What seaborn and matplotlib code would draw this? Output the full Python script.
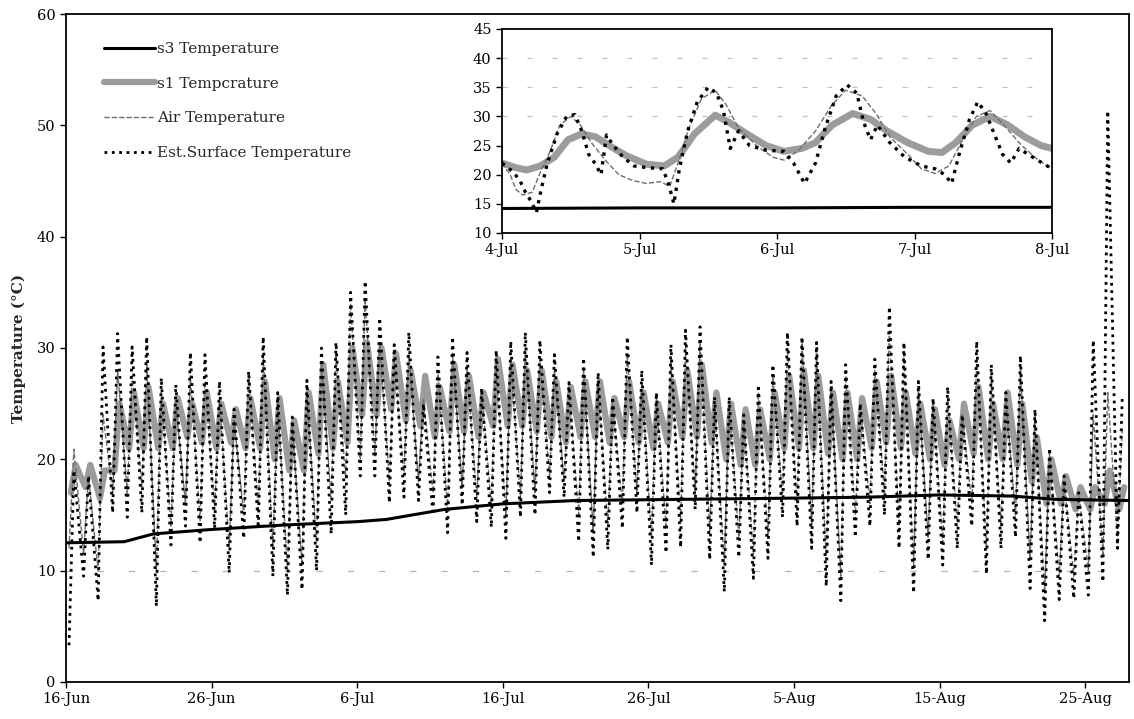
import numpy as np
import pandas as pd
import matplotlib
matplotlib.use("Agg")
import matplotlib.pyplot as plt
import matplotlib.dates as mdates
import seaborn as sns

# ---------------- data ----------------
start_date = "2013-06-16"
main_ticks = ["2013-06-16", "2013-06-26", "2013-07-06", "2013-07-16",
              "2013-07-26", "2013-08-05", "2013-08-15", "2013-08-25"]

# daily maximum / minimum of each series, 16-Jun ... 27-Aug
surf_max = [19.0, 18.5, 30.1, 31.3, 30.1, 31.0, 27.3, 26.7, 29.6, 29.4,
            27.0, 24.5, 27.9, 31.0, 26.0, 23.8, 27.1, 30.0, 30.5, 35.0,
            36.0, 32.7, 30.3, 31.4, 25.0, 29.2, 31.0, 29.6, 26.4, 29.8,
            30.6, 31.4, 30.7, 29.4, 26.9, 29.1, 27.8, 25.6, 31.0, 28.0,
            26.0, 30.3, 31.6, 31.9, 25.6, 25.6, 24.0, 26.7, 28.5, 31.4,
            31.0, 30.5, 27.0, 28.5, 25.0, 29.0, 33.7, 30.5, 27.0, 25.5,
            26.5, 24.0, 30.6, 28.5, 26.0, 29.3, 24.5, 21.0, 18.5, 17.0,
            30.7, 51.3, 25.8]
surf_min = [3.3, 9.5, 7.3, 15.2, 14.8, 15.2, 6.8, 12.3, 14.0, 12.5,
            13.8, 9.8, 12.9, 13.8, 9.5, 7.8, 8.3, 10.0, 13.3, 15.0,
            18.5, 18.5, 16.1, 16.6, 16.3, 15.0, 13.4, 15.9, 14.4, 13.9,
            12.9, 14.8, 15.0, 17.0, 16.6, 12.6, 11.2, 11.9, 13.8, 15.2,
            10.5, 11.6, 12.1, 15.5, 11.0, 8.1, 11.2, 9.3, 11.1, 14.8,
            14.0, 12.0, 8.6, 7.3, 13.0, 14.0, 15.0, 12.0, 8.0, 11.0,
            10.5, 12.0, 14.0, 9.7, 12.0, 13.0, 8.4, 5.5, 7.4, 7.5,
            7.8, 9.0, 12.0]
air_max = [20.9, 18.5, 24.0, 28.0, 27.5, 28.5, 26.0, 25.0, 27.5, 27.0,
           25.5, 23.5, 27.8, 29.5, 25.0, 23.0, 26.0, 28.5, 29.5, 34.0,
           34.5, 30.5, 29.0, 29.5, 25.5, 28.0, 29.5, 28.0, 26.0, 28.5,
           29.0, 30.0, 29.0, 28.0, 26.5, 28.0, 27.0, 25.0, 29.5, 27.0,
           25.5, 29.0, 30.0, 30.5, 25.0, 25.0, 23.5, 26.0, 27.5, 30.0,
           30.5, 29.5, 26.5, 27.5, 25.0, 28.0, 31.5, 29.5, 26.0, 25.0,
           25.5, 24.0, 29.0, 27.5, 25.5, 28.0, 24.0, 20.5, 18.0, 17.0,
           24.0, 26.0, 23.0]
air_min = [12.0, 11.5, 10.0, 17.0, 17.0, 17.5, 10.0, 14.0, 16.0, 14.5,
           15.5, 12.0, 15.0, 15.5, 12.0, 10.0, 10.5, 12.5, 16.5, 18.3,
           20.0, 20.3, 18.0, 18.5, 18.0, 17.0, 15.5, 17.5, 16.5, 16.0,
           15.0, 16.5, 17.0, 18.5, 18.0, 15.0, 13.5, 14.0, 16.0, 17.0,
           13.0, 14.0, 14.5, 17.0, 13.5, 10.5, 13.0, 11.5, 13.0, 16.5,
           16.0, 14.0, 11.0, 9.5, 15.0, 16.0, 17.0, 14.0, 10.5, 13.0,
           12.5, 14.0, 16.0, 12.0, 14.0, 15.0, 11.0, 8.0, 9.5, 9.5,
           10.0, 11.5, 13.0]
s1_max = [19.5, 19.5, 19.0, 25.0, 26.0, 26.5, 25.0, 25.5, 25.0, 26.0,
          25.0, 24.5, 25.5, 27.0, 25.5, 23.5, 26.0, 28.5, 27.0, 30.0,
          30.5, 30.0, 29.5, 28.0, 27.5, 26.5, 28.5, 27.5, 26.0, 29.0,
          28.5, 28.0, 28.0, 27.0, 26.5, 27.0, 27.0, 25.5, 27.0, 26.0,
          25.0, 27.0, 28.0, 28.5, 26.0, 25.0, 24.5, 24.5, 26.0, 27.5,
          28.0, 27.5, 26.0, 26.0, 25.5, 27.0, 27.5, 26.0, 25.0, 24.5,
          23.5, 25.0, 26.5, 25.0, 26.0, 25.0, 22.0, 20.0, 18.5, 17.5,
          17.5, 19.0, 17.5]
s1_min = [17.0, 17.5, 16.5, 19.0, 21.0, 21.0, 21.0, 21.0, 22.0, 21.5,
          21.0, 21.5, 21.0, 21.0, 20.0, 19.0, 19.0, 20.5, 21.0, 21.5,
          24.0, 24.0, 24.5, 23.5, 23.0, 22.0, 22.5, 22.5, 22.0, 23.0,
          23.0, 23.0, 22.5, 22.0, 21.5, 22.0, 22.0, 21.5, 22.0, 21.5,
          21.0, 21.5, 22.0, 22.0, 21.5, 20.0, 19.5, 19.5, 20.0, 21.0,
          21.0, 21.0, 20.5, 20.0, 20.0, 21.0, 21.5, 21.0, 20.5, 20.0,
          19.5, 20.0, 20.5, 20.0, 20.0, 19.5, 18.0, 16.0, 16.0, 15.5,
          15.5, 16.0, 15.5]
s3_dates = ["2013-06-16", "2013-06-20", "2013-06-22", "2013-06-26", "2013-07-01",
            "2013-07-06", "2013-07-08", "2013-07-12", "2013-07-16", "2013-07-21",
            "2013-07-28", "2013-08-04", "2013-08-10", "2013-08-15", "2013-08-20",
            "2013-08-23", "2013-08-28"]
s3_vals = [12.5, 12.6, 13.3, 13.7, 14.1, 14.4, 14.6, 15.5, 16.0, 16.3,
           16.4, 16.5, 16.6, 16.8, 16.7, 16.4, 16.3]

# inset: 4-Jul ... 8-Jul (time in days after 4-Jul 00:00)
inset_start = "2013-07-04"
inset_ticks = ["2013-07-04", "2013-07-05", "2013-07-06", "2013-07-07", "2013-07-08"]
in_surf_t = [0.00, 0.08, 0.13, 0.17, 0.21, 0.25, 0.29, 0.33, 0.40, 0.47, 0.53, 0.58,
             0.63, 0.68, 0.72, 0.76, 0.81, 0.88, 0.96, 1.06, 1.17, 1.21, 1.25, 1.29,
             1.35, 1.42, 1.50, 1.56, 1.61, 1.66, 1.72, 1.80, 1.92, 2.05, 2.12, 2.20,
             2.28, 2.35, 2.43, 2.51, 2.58, 2.63, 2.68, 2.73, 2.82, 2.93, 3.05, 3.15,
             3.22, 3.27, 3.33, 3.40, 3.46, 3.52, 3.58, 3.64, 3.70, 3.76, 3.86, 4.00]
in_surf_v = [22.0, 20.5, 19.0, 17.0, 15.5, 13.5, 18.0, 22.0, 27.0, 30.0, 30.3, 27.5,
             23.5, 21.8, 20.0, 26.8, 25.0, 23.0, 21.5, 21.2, 21.0, 18.5, 15.0, 21.0,
             27.5, 32.5, 35.0, 34.0, 31.0, 24.5, 27.5, 25.0, 24.2, 24.0, 22.0, 18.5,
             22.0, 28.0, 33.5, 35.4, 34.0, 29.0, 26.0, 28.5, 25.5, 23.0, 21.5, 21.0,
             20.0, 18.5, 24.0, 29.5, 32.5, 30.5, 27.0, 23.5, 22.0, 24.5, 23.0, 21.0]
in_air_t = [0.00, 0.06, 0.10, 0.15, 0.22, 0.28, 0.35, 0.42, 0.50, 0.57, 0.65, 0.75,
            0.85, 0.95, 1.05, 1.15, 1.22, 1.28, 1.36, 1.45, 1.55, 1.63, 1.72, 1.85,
            1.97, 2.05, 2.15, 2.28, 2.40, 2.50, 2.62, 2.72, 2.82, 2.95, 3.05, 3.15,
            3.25, 3.35, 3.45, 3.55, 3.65, 3.78, 3.90, 4.00]
in_air_v = [22.0, 20.0, 17.5, 16.5, 17.0, 20.5, 24.0, 28.5, 30.0, 28.5, 25.5, 22.5,
            20.0, 19.0, 18.5, 18.8, 18.0, 22.0, 28.0, 33.0, 34.5, 32.0, 28.0, 25.0,
            23.0, 22.5, 24.0, 27.5, 32.0, 34.5, 33.5, 30.5, 26.5, 23.5, 21.0, 20.2,
            21.5, 26.0, 30.0, 31.0, 28.5, 25.0, 22.5, 21.0]
in_s1_t = [0.00, 0.10, 0.18, 0.28, 0.38, 0.48, 0.58, 0.68, 0.78, 0.90, 1.05, 1.18,
           1.28, 1.40, 1.55, 1.65, 1.78, 1.92, 2.05, 2.18, 2.28, 2.40, 2.55, 2.68,
           2.80, 2.95, 3.10, 3.20, 3.30, 3.42, 3.55, 3.68, 3.80, 3.92, 4.00]
in_s1_v = [22.0, 21.2, 20.8, 21.5, 23.0, 26.0, 27.0, 26.5, 25.0, 23.3, 21.8, 21.5,
           23.0, 27.0, 30.2, 29.0, 27.0, 25.0, 24.0, 24.5, 25.5, 28.5, 30.5, 29.5,
           27.5, 25.5, 24.0, 23.8, 25.5, 28.5, 30.0, 28.5, 26.5, 25.0, 24.5]
in_s3_t = [0.0, 1.0, 2.0, 3.0, 4.0]
in_s3_v = [14.2, 14.3, 14.3, 14.4, 14.4]

# ---------------- helpers ----------------
def diurnal(mins, maxs, h_min, h_max):
    t, v = [], []
    for d, (lo, hi) in enumerate(zip(mins, maxs)):
        t += [d + h_min / 24.0, d + h_max / 24.0]
        v += [lo, hi]
    return pd.Timestamp(start_date) + pd.to_timedelta(t, unit="D"), v


def offs(t):
    return pd.Timestamp(inset_start) + pd.to_timedelta(t, unit="D")


# ---------------- style ----------------
sns.set_style("ticks")
plt.rcParams["font.family"] = ["DejaVu Serif"]

fig = plt.figure(figsize=(11.34, 7.19), dpi=100)
ax = fig.add_axes([0.0582, 0.0515, 0.9374, 0.929])

S1_COL = "#9c9c9c"
AIR_COL = "#6e6e6e"

t_s3 = pd.to_datetime(s3_dates)
t_s1, v_s1 = diurnal(s1_min, s1_max, 8, 16)
t_air, v_air = diurnal(air_min, air_max, 5, 13)
t_sf, v_sf = diurnal(surf_min, surf_max, 5, 13)

ax.axhline(10, color="#b5b5b5", lw=0.9, dashes=(5, 20), zorder=0)

sns.lineplot(x=t_s3, y=s3_vals, ax=ax, color="black", lw=2.2,
             label="s3 Temperature", estimator=None, zorder=5)
sns.lineplot(x=t_s1, y=v_s1, ax=ax, color=S1_COL, lw=4.5,
             label="s1 Tempcrature", estimator=None, zorder=2)
sns.lineplot(x=t_air, y=v_air, ax=ax, color=AIR_COL, lw=1.0, linestyle="--",
             label="Air Temperature", estimator=None, zorder=3)
sns.lineplot(x=t_sf, y=v_sf, ax=ax, color="black", lw=2.0, linestyle=":",
             label="Est.Surface Temperature", estimator=None, zorder=4)

ax.set_xlim(pd.Timestamp("2013-06-16"), pd.Timestamp("2013-08-28"))
ax.set_ylim(0, 60)
ax.set_yticks(range(0, 61, 10))
ax.set_xticks(pd.to_datetime(main_ticks))
ax.xaxis.set_major_formatter(mdates.DateFormatter("%-d-%b"))
ax.tick_params(direction="out", length=4, width=1, labelsize=10.5, colors="black",
               top=False, right=False)
for sp in ax.spines.values():
    sp.set_visible(True)
    sp.set_color("black")
    sp.set_linewidth(1.3)
ax.set_xlabel("")
ax.set_ylabel("Temperature (\u00b0C)", fontsize=11, fontweight="bold", labelpad=8)

leg = ax.legend(loc="upper left", bbox_to_anchor=(0.036, 0.958), frameon=False,
                fontsize=11, handlelength=3.3, handletextpad=0.15,
                labelspacing=1.35, borderaxespad=0, borderpad=0)

# ---------------- inset ----------------
axi = fig.add_axes([0.4427, 0.676, 0.485, 0.2837])
axi.set_facecolor("white")
axi.set_zorder(10)
for yv in (30, 35, 40):
    axi.axhline(yv, color="#c0c0c0", lw=0.9, dashes=(4, 16), zorder=0)

sns.lineplot(x=offs(in_s3_t), y=in_s3_v, ax=axi, color="black", lw=2.2,
             estimator=None, zorder=5)
sns.lineplot(x=offs(in_s1_t), y=in_s1_v, ax=axi, color=S1_COL, lw=5,
             estimator=None, zorder=2)
sns.lineplot(x=offs(in_air_t), y=in_air_v, ax=axi, color=AIR_COL, lw=1.0,
             linestyle="--", estimator=None, zorder=3)
sns.lineplot(x=offs(in_surf_t), y=in_surf_v, ax=axi, color="black", lw=2.4,
             linestyle=":", estimator=None, zorder=4)

axi.set_xlim(pd.Timestamp("2013-07-04"), pd.Timestamp("2013-07-08"))
axi.set_ylim(10, 45)
axi.set_yticks(range(10, 46, 5))
axi.set_xticks(pd.to_datetime(inset_ticks))
axi.xaxis.set_major_formatter(mdates.DateFormatter("%-d-%b"))
axi.tick_params(direction="out", length=4, width=1, labelsize=10.5, colors="black",
                top=False, right=False)
for sp in axi.spines.values():
    sp.set_visible(True)
    sp.set_color("black")
    sp.set_linewidth(1.3)
axi.set_xlabel("")
axi.set_ylabel("")
if axi.get_legend() is not None:
    axi.get_legend().remove()

fig.savefig("out.png", dpi=100)
